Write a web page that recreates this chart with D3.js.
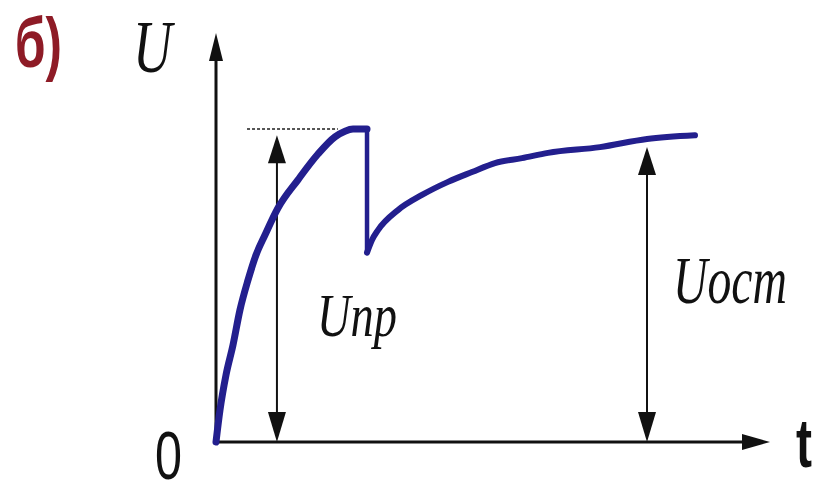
<!DOCTYPE html>
<html>
<head>
<meta charset="utf-8">
<script src="https://cdn.jsdelivr.net/npm/d3@7"></script>
<style>
  html, body { margin: 0; padding: 0; background: #fff; }
  svg { display: block; }
</style>
</head>
<body>
<svg id="chart" width="813" height="485"></svg>
<script>
// Voltage across the capacitor: charge up to U_pr, sudden drop, recovery toward U_ost
const riseT = [0, 0.72, 1.81, 3.07, 4.33, 5.78, 7.22, 8.84, 11.19, 14.8, 18.41, 21.48, 23.29, 24.73, 27.26];
const riseU = [0, 7.8, 16.4, 23.7, 32.3, 39.6, 45.7, 50.6, 57.2, 64.1, 70.4, 74.6, 76.0, 76.5, 76.5];
const dropT = [27.26, 27.26];
const dropU = [76.5, 46.3];
const recoverT = [27.26, 28.16, 29.24, 32.85, 37.18, 41.88, 46.21, 50.36, 55.23, 59.93, 69.31, 77.8, 86.46];
const recoverU = [46.3, 49.4, 51.8, 56.7, 60.4, 63.6, 66.0, 68.2, 69.4, 70.7, 72.1, 74.1, 75.0];

// Reference level and measured spans
const peakLevel = { tFrom: 5.6, tTo: 22.0, u: 76.5 };
const spanArrows = [
  { t: 11.0, uFrom: 0, uTo: 75.0, label: "Uпр" },
  { t: 77.8, uFrom: 0, uTo: 72.1, label: "Uост" }
];

const svg = d3.select("#chart");
const W = 813, H = 485;
svg.append("rect").attr("width", W).attr("height", H).attr("fill", "#fff");

const x = d3.scaleLinear().domain([0, 100]).range([216, 770]);
const y = d3.scaleLinear().domain([0, 100]).range([442, 33]);

const ink = "#111";
const curveColor = "#231f8e";

// Axes: bare domain lines, no ticks
const xAxis = d3.axisBottom(x).tickValues([]).tickSizeOuter(0);
const yAxis = d3.axisLeft(y).tickValues([]).tickSizeOuter(0);
svg.append("g").attr("transform", `translate(0,${y(0)})`).call(xAxis)
  .select(".domain").attr("stroke", ink).attr("stroke-width", 3)
  .attr("d", `M${x(0)},0H${x(100) - 20}`);
svg.append("g").attr("transform", `translate(${x(0)},0)`).call(yAxis)
  .select(".domain").attr("stroke", ink).attr("stroke-width", 3)
  .attr("d", `M0,${y(0)}V${y(100) + 22}`);

// Arrowhead helpers (tip at given pixel point)
function headUp(px, py, w, l) {
  return `M${px},${py}L${px - w / 2},${py + l}L${px + w / 2},${py + l}Z`;
}
function headDown(px, py, w, l) {
  return `M${px},${py}L${px - w / 2},${py - l}L${px + w / 2},${py - l}Z`;
}
function headRight(px, py, w, l) {
  return `M${px},${py}L${px - l},${py - w / 2}L${px - l},${py + w / 2}Z`;
}

svg.append("path").attr("d", headUp(x(0), y(100), 14, 28)).attr("fill", ink);
svg.append("path").attr("d", headRight(x(100), y(0), 16, 28)).attr("fill", ink);

// Dotted level line at the peak value
svg.append("line")
  .attr("x1", x(peakLevel.tFrom)).attr("x2", x(peakLevel.tTo))
  .attr("y1", y(peakLevel.u)).attr("y2", y(peakLevel.u))
  .attr("stroke", "#555").attr("stroke-width", 2)
  .attr("stroke-dasharray", "3,2");

// Double-headed span arrows
spanArrows.forEach(a => {
  const px = x(a.t);
  svg.append("line")
    .attr("x1", px).attr("x2", px)
    .attr("y1", y(a.uTo) + 20).attr("y2", y(a.uFrom) - 20)
    .attr("stroke", ink).attr("stroke-width", 2);
  svg.append("path").attr("d", headUp(px, y(a.uTo), 18, 28)).attr("fill", ink);
  svg.append("path").attr("d", headDown(px, y(a.uFrom), 18, 30)).attr("fill", ink);
});

// Voltage curve, drawn as three strokes
const line = d3.line().x(d => x(d[0])).y(d => y(d[1]));
const smooth = d3.line().x(d => x(d[0])).y(d => y(d[1])).curve(d3.curveMonotoneX);

svg.append("path").datum(d3.zip(riseT, riseU)).attr("d", smooth)
  .attr("fill", "none").attr("stroke", curveColor).attr("stroke-width", 7)
  .attr("stroke-linejoin", "round").attr("stroke-linecap", "round");
svg.append("path").datum(d3.zip(dropT, dropU)).attr("d", line)
  .attr("fill", "none").attr("stroke", curveColor).attr("stroke-width", 4.5);
svg.append("path").datum(d3.zip(recoverT, recoverU)).attr("d", smooth)
  .attr("fill", "none").attr("stroke", curveColor).attr("stroke-width", 6)
  .attr("stroke-linejoin", "round").attr("stroke-linecap", "round");

// Text: narrow lettering, squeezed horizontally to a target width
const serif = "'Liberation Serif', 'DejaVu Serif', serif";
const sans = "'Liberation Sans', Arial, sans-serif";

function label(str, px, py, width, opts) {
  const t = svg.append("text").text(str)
    .attr("x", 0).attr("y", 0)
    .attr("font-family", opts.family)
    .attr("font-size", opts.size)
    .attr("font-weight", opts.weight || "normal")
    .attr("font-style", opts.style || "normal")
    .attr("fill", opts.fill || ink);
  const natural = t.node().getComputedTextLength();
  t.attr("transform", `translate(${px},${py}) scale(${width / natural},1)`);
  return t;
}

label("б)", 15, 67, 47, { family: sans, size: 70, weight: "bold", fill: "#8e1b26" });
label("U", 133, 72, 39, { family: serif, size: 74, style: "italic" });
label("Uпр", 317, 336, 80, { family: serif, size: 62, style: "italic" });
label("Uост", 673, 303, 114, { family: serif, size: 68, style: "italic" });
label("0", 155, 479, 27, { family: sans, size: 68 });
label("t", 796, 467, 16, { family: sans, size: 68, weight: "bold" });
</script>
</body>
</html>
